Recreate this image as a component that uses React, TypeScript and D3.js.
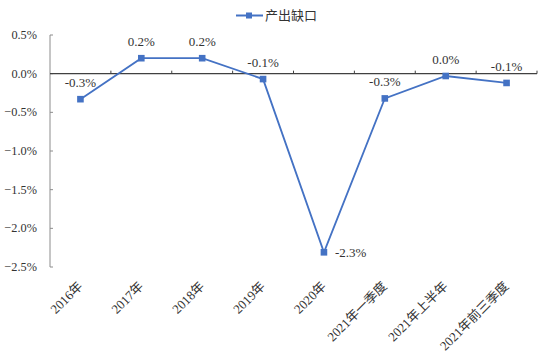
import React from "react";
import * as d3 from "d3";

const categories = ["2016年", "2017年", "2018年", "2019年", "2020年", "2021年一季度", "2021年上半年", "2021年前三季度"];
const outputGap = [-0.33, 0.2, 0.2, -0.07, -2.31, -0.32, -0.03, -0.12];
const valueLabels = ["-0.3%", "0.2%", "0.2%", "-0.1%", "-2.3%", "-0.3%", "0.0%", "-0.1%"];
const labelPlacement = ["above", "above", "above", "above", "right", "above", "above", "above"];
const yTicks = [0.5, 0, -0.5, -1.0, -1.5, -2.0, -2.5];
const seriesName = "产出缺口";

const W = 546;
const H = 359;
const COLOR = "#4472C4";
const TXT = { fontFamily: "Liberation Serif, Noto Sans CJK SC" } as React.CSSProperties;

export default function App() {
  const x = d3.scaleBand<string>().domain(categories).range([50, 537]).padding(0);
  const y = d3.scaleLinear().domain([-2.5, 0.5]).range([267, 35]);
  const cx = (c: string) => (x(c) as number) + x.bandwidth() / 2;
  const pts: [number, number][] = categories.map((c, i) => [cx(c), y(outputGap[i])]);
  const line = d3.line<[number, number]>().x((d) => d[0]).y((d) => d[1]);
  const fmt = d3.format(".1f");
  const y0 = y(0);
  const boundaries = categories.map((c) => (x(c) as number) + x.bandwidth());

  return (
    <svg
      width={W}
      height={H}
      style={{ position: "absolute", left: 0, top: 0, background: "#fff" }}
    >
      {/* legend */}
      <g>
        <line x1={236} x2={263} y1={15.5} y2={15.5} stroke={COLOR} strokeWidth={2} />
        <rect x={246} y={12.5} width={6} height={6} fill={COLOR} />
        <text x={265} y={20} fontSize={13} fill="#333" style={TXT}>
          {seriesName}
        </text>
      </g>

      {/* y axis */}
      <line x1={50} x2={50} y1={y(0.5)} y2={y(-2.5)} stroke="#8c8c8c" strokeWidth={1} />
      {yTicks.map((t) => (
        <g key={t}>
          <line x1={50} x2={53} y1={y(t)} y2={y(t)} stroke="#8c8c8c" strokeWidth={1} />
          <text x={37} y={y(t) + 4} fontSize={12.3} textAnchor="end" fill="#333" style={TXT}>
            {fmt(t) + "%"}
          </text>
        </g>
      ))}

      {/* x axis at zero */}
      <line x1={50} x2={537} y1={y0} y2={y0} stroke="#404040" strokeWidth={1.3} />
      {boundaries.map((b, i) => (
        <line key={i} x1={b} x2={b} y1={y0} y2={y0 - 3} stroke="#404040" strokeWidth={1} />
      ))}

      {/* category labels */}
      {categories.map((c) => {
        const ex = cx(c) + 3;
        const ey = 287;
        return (
          <text
            key={c}
            x={ex}
            y={ey}
            fontSize={13}
            textAnchor="end"
            fill="#333"
            style={TXT}
            transform={`rotate(-45 ${ex} ${ey})`}
          >
            {c}
          </text>
        );
      })}

      {/* series */}
      <path d={line(pts) || ""} fill="none" stroke={COLOR} strokeWidth={1.8} />
      {pts.map((p, i) => (
        <rect key={i} x={p[0] - 3.3} y={p[1] - 3.3} width={6.6} height={6.6} fill={COLOR} />
      ))}

      {/* data labels */}
      {pts.map((p, i) =>
        labelPlacement[i] === "right" ? (
          <text key={i} x={p[0] + 11} y={p[1] + 4.5} fontSize={13} fill="#333" style={TXT}>
            {valueLabels[i]}
          </text>
        ) : (
          <text key={i} x={p[0]} y={p[1] - 12} fontSize={13} textAnchor="middle" fill="#333" style={TXT}>
            {valueLabels[i]}
          </text>
        )
      )}
    </svg>
  );
}
